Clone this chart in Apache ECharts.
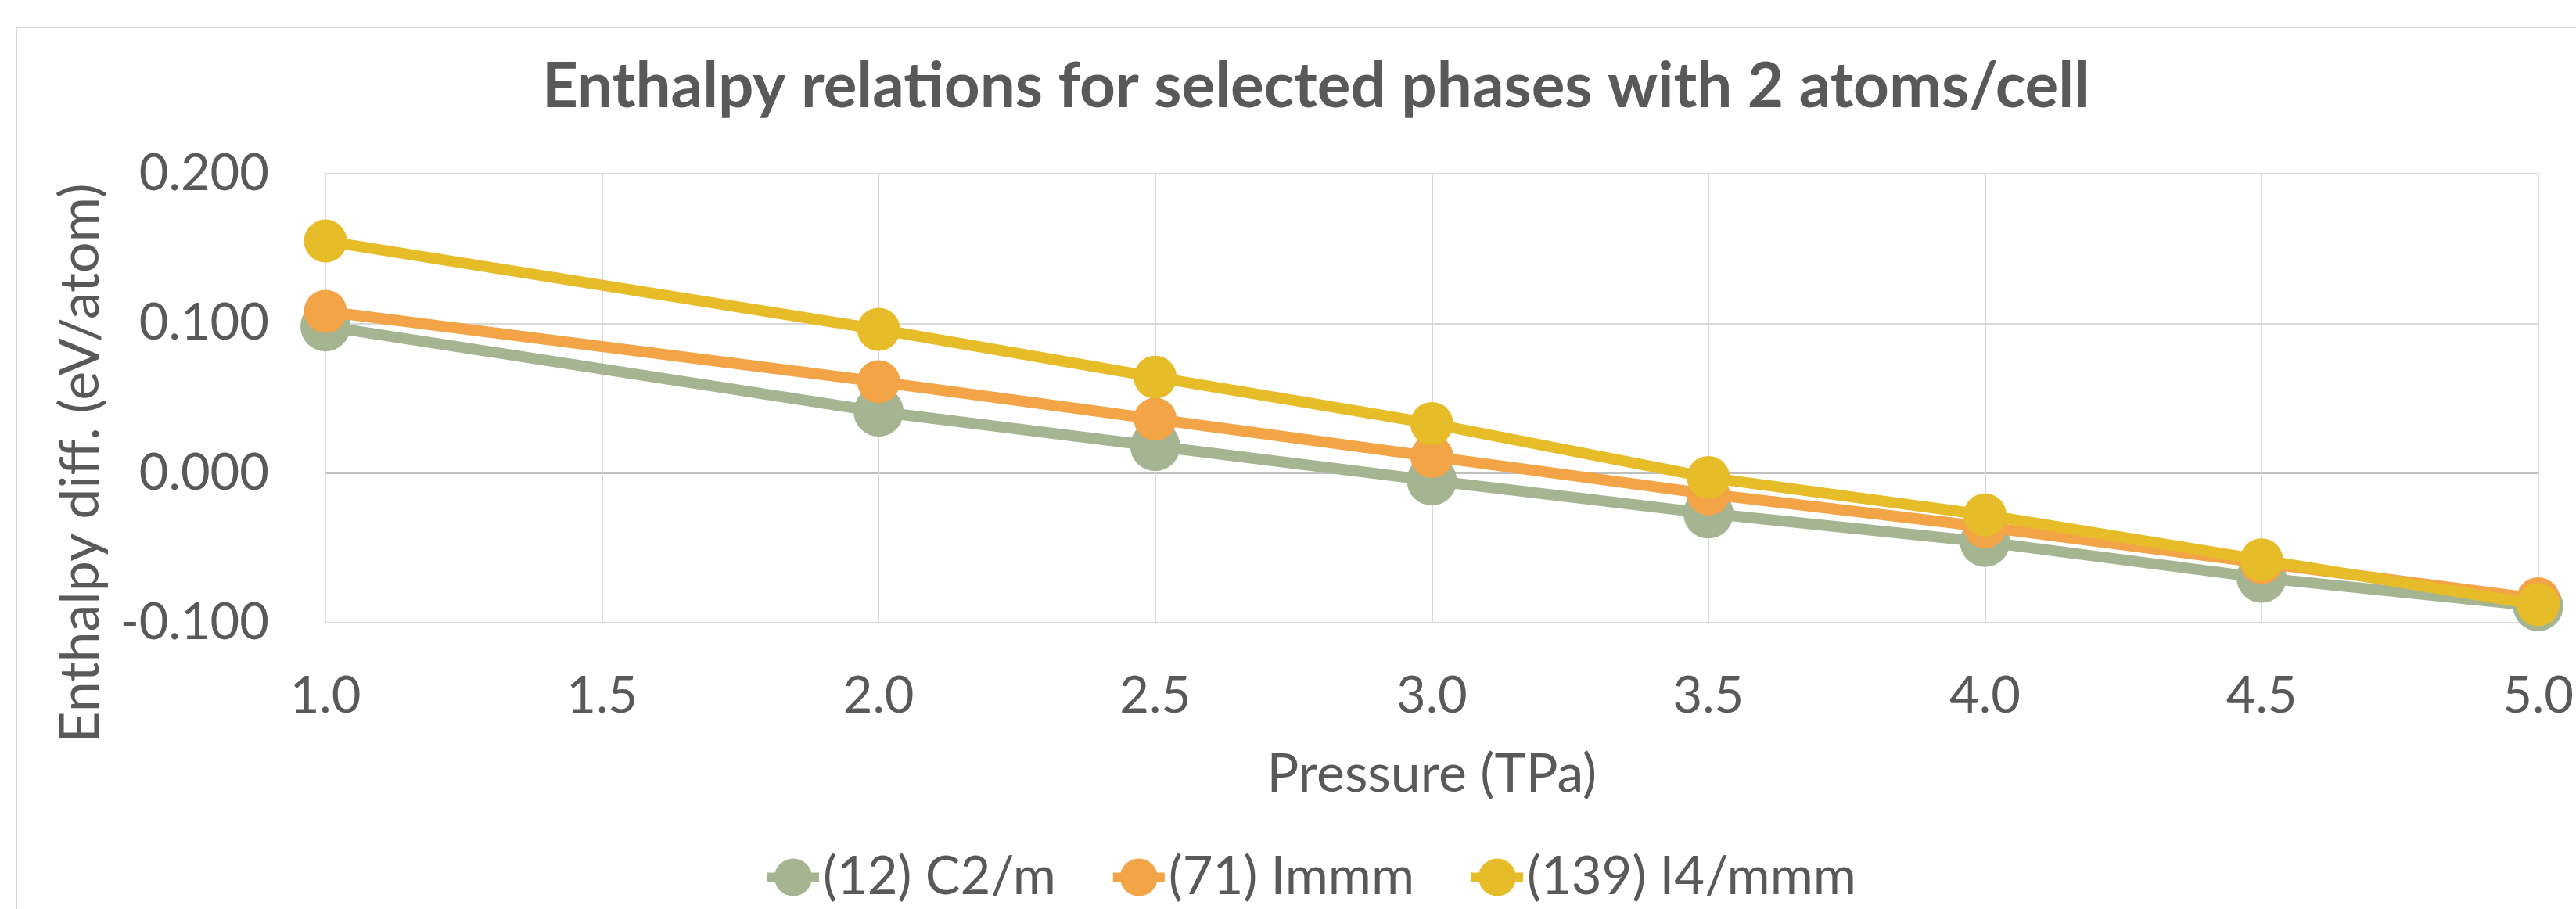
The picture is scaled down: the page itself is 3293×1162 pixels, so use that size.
<!DOCTYPE html>
<html>
<head>
<meta charset="utf-8">
<script src="https://cdn.jsdelivr.net/npm/echarts@6/dist/echarts.min.js"></script>
<style>
  html, body { margin: 0; padding: 0; background: #ffffff; }
  #chart { width: 3293px; height: 1162px; }
</style>
</head>
<body>
<div id="chart"></div>
<script>
// ---- data ----
const chartTitle = 'Enthalpy relations for selected phases with 2 atoms/cell';
const xAxisTitle = 'Pressure (TPa)';
const yAxisTitle = 'Enthalpy diff. (eV/atom)';
const seriesNames = ['(12) C2/m', '(71) Immm', '(139) I4/mmm'];
const pressure = [1.0, 2.0, 2.5, 3.0, 3.5, 4.0, 4.5, 5.0];
const c2m   = [0.098, 0.041, 0.018, -0.005, -0.027, -0.046, -0.070, -0.089];
const immm  = [0.108, 0.061, 0.036,  0.011, -0.014, -0.036, -0.060, -0.084];
const i4mmm = [0.155, 0.096, 0.064,  0.033, -0.003, -0.028, -0.058, -0.088];
const xTicks = [1.0, 1.5, 2.0, 2.5, 3.0, 3.5, 4.0, 4.5, 5.0];
const yTicks = [-0.1, 0.0, 0.1, 0.2];

const FONT = 'Lato, "Open Sans", sans-serif';
const TEXT = '#595959';
const colors = ['#A5B592', '#F3A447', '#E7BC29'];

function pairs(xs, ys) { return xs.map((x, i) => [x, ys[i]]); }

const chart = echarts.init(document.getElementById('chart'), null, { renderer: 'canvas' });
chart.setOption({
  animation: false,
  backgroundColor: '#ffffff',
  color: colors,
  title: {
    text: chartTitle,
    left: 1677,
    top: 66,
    textAlign: 'center',
    textStyle: { fontFamily: FONT, fontWeight: 'bold', fontSize: 80, color: TEXT }
  },
  legend: {
    left: 970,
    top: 1083,
    itemWidth: 66,
    itemHeight: 60,
    itemGap: 67,
    lineStyle: { width: 12 },
    textStyle: { fontFamily: FONT, fontSize: 67, color: TEXT },
    data: seriesNames
  },
  grid: { left: 416, right: 43, top: 222, bottom: 366, containLabel: false },
  xAxis: {
    type: 'value',
    min: xTicks[0],
    max: xTicks[xTicks.length - 1],
    interval: xTicks[1] - xTicks[0],
    name: xAxisTitle,
    nameLocation: 'middle',
    nameGap: 160,
    nameTextStyle: { fontFamily: FONT, fontSize: 68, color: TEXT },
    axisLine: { show: false, onZero: false },
    axisTick: { show: false },
    axisLabel: {
      margin: 62,
      fontFamily: FONT, fontSize: 65, color: TEXT,
      formatter: v => v.toFixed(1)
    },
    splitLine: { show: true, lineStyle: { color: '#d9d9d9', width: 2 } }
  },
  yAxis: {
    type: 'value',
    min: yTicks[0],
    max: yTicks[yTicks.length - 1],
    interval: 0.1,
    axisLine: { show: false },
    axisTick: { show: false },
    axisLabel: {
      margin: 72,
      fontFamily: FONT, fontSize: 65, color: TEXT,
      formatter: v => v.toFixed(3)
    },
    splitLine: { show: true, lineStyle: { color: ['#d9d9d9', '#bfbfbf', '#d9d9d9', '#d9d9d9'], width: 2 } }
  },
  graphic: [
    {
      type: 'rect',
      silent: true,
      z: -10,
      shape: { x: 21, y: 35, width: 3400, height: 1400 },
      style: { fill: 'none', stroke: '#d9d9d9', lineWidth: 2 }
    },
    {
      type: 'text',
      x: 103,
      y: 592,
      rotation: Math.PI / 2,
      style: {
        text: yAxisTitle,
        fontFamily: FONT, fontSize: 70, fill: TEXT,
        align: 'center', verticalAlign: 'middle'
      }
    }
  ],
  series: [
    {
      name: seriesNames[0], type: 'line', data: pairs(pressure, c2m),
      symbol: 'circle', symbolSize: 64, clip: false, z: 2,
      lineStyle: { width: 14, color: colors[0] }, itemStyle: { color: colors[0] }
    },
    {
      name: seriesNames[1], type: 'line', data: pairs(pressure, immm),
      symbol: 'circle', symbolSize: 55, clip: false, z: 3,
      lineStyle: { width: 14, color: colors[1] }, itemStyle: { color: colors[1] }
    },
    {
      name: seriesNames[2], type: 'line', data: pairs(pressure, i4mmm),
      symbol: 'circle', symbolSize: 55, clip: false, z: 4,
      lineStyle: { width: 14, color: colors[2] }, itemStyle: { color: colors[2] }
    }
  ]
});
</script>
</body>
</html>
